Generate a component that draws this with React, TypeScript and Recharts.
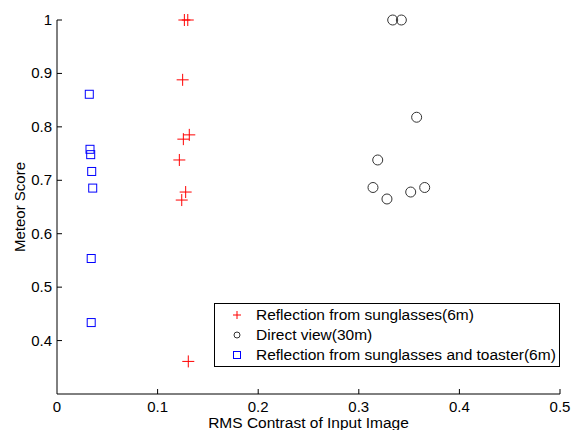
import React from 'react'
import { ScatterChart, Scatter, XAxis, YAxis } from 'recharts'

// Reflection from sunglasses (6m)
const sunglassesX = [0.1266, 0.13, 0.1249, 0.1256, 0.1315, 0.1216, 0.1279, 0.124, 0.1305]
const sunglassesY = [1.0, 1.0, 0.888, 0.777, 0.785, 0.738, 0.678, 0.663, 0.361]

// Direct view (30m)
const directX = [0.3337, 0.3423, 0.3575, 0.3188, 0.3141, 0.328, 0.3516, 0.3655]
const directY = [1.0, 1.0, 0.818, 0.738, 0.6865, 0.665, 0.678, 0.6865]

// Reflection from sunglasses and toaster (6m)
const toasterX = [0.0321, 0.0328, 0.0335, 0.0345, 0.0355, 0.034, 0.034]
const toasterY = [0.861, 0.758, 0.748, 0.7165, 0.6854, 0.5536, 0.4337]

const xTicks = [0, 0.1, 0.2, 0.3, 0.4, 0.5]
const yTicks = [0.3, 0.4, 0.5, 0.6, 0.7, 0.8, 0.9, 1.0]

const legendLabels = [
  'Reflection from sunglasses(6m)',
  'Direct view(30m)',
  'Reflection from sunglasses and toaster(6m)',
]

const zip = (xs: number[], ys: number[]) => xs.map((x, i) => ({ x, y: ys[i] }))

const FONT = '"Liberation Sans", Arial, Helvetica, sans-serif'

const Cross = (props: any) => {
  const { cx, cy } = props
  const s = 6
  return (
    <g stroke="#ff0000" strokeWidth={1}>
      <line x1={cx - s} y1={cy} x2={cx + s} y2={cy} />
      <line x1={cx} y1={cy - s} x2={cx} y2={cy + s} />
    </g>
  )
}

const Ring = (props: any) => {
  const { cx, cy } = props
  return <circle cx={cx} cy={cy} r={5} fill="none" stroke="#333" strokeWidth={1} />
}

const Box = (props: any) => {
  const { cx, cy } = props
  return (
    <rect x={cx - 4} y={cy - 4} width={8} height={8} fill="none" stroke="#0000ff" strokeWidth={1} />
  )
}

const XTick = (props: any) => {
  const { x, y, payload } = props
  const v = payload.value
  return (
    <g>
      {v > 0 && <line x1={x} y1={y} x2={x} y2={y - 5} stroke="#000" />}
      <text x={x} y={y + 18} textAnchor="middle" fontSize={15} fontFamily={FONT} fill="#000">
        {v === 0 ? '0' : String(v)}
      </text>
    </g>
  )
}

const YTick = (props: any) => {
  const { x, y, payload } = props
  const v = payload.value
  if (v < 0.35) return null
  return (
    <g>
      <line x1={x} y1={y} x2={x + 5} y2={y} stroke="#000" />
      <text x={x - 5} y={y + 5} textAnchor="end" fontSize={15} fontFamily={FONT} fill="#000">
        {v === 1 ? '1' : String(v)}
      </text>
    </g>
  )
}

const LegendBox = () => {
  const markers = [
    <g stroke="#ff0000">
      <line x1={2} y1={6} x2={10} y2={6} />
      <line x1={6} y1={2} x2={6} y2={10} />
    </g>,
    <circle cx={6} cy={6} r={3} fill="none" stroke="#333" />,
    <rect x={2.5} y={2.5} width={7} height={7} fill="none" stroke="#0000ff" />,
  ]
  return (
    <div
      style={{
        position: 'absolute',
        left: 214,
        top: 303,
        width: 344,
        height: 61,
        border: '1px solid #000',
        background: '#fff',
        fontFamily: FONT,
        fontSize: 15.5,
        paddingTop: 1,
      }}
    >
      {legendLabels.map((label, i) => (
        <div key={label} style={{ display: 'flex', alignItems: 'center', height: 20 }}>
          <svg width={12} height={12} style={{ marginLeft: 16, marginRight: 13 }}>
            {markers[i]}
          </svg>
          <span style={{ lineHeight: '20px', whiteSpace: 'nowrap' }}>{label}</span>
        </div>
      ))}
    </div>
  )
}

export default function App() {
  return (
    <div style={{ position: 'absolute', left: 0, top: 0, width: 572, height: 430, background: '#fff' }}>
      <ScatterChart width={572} height={430} margin={{ top: 20, right: 12, bottom: 0, left: 17 }}>
        <XAxis
          type="number"
          dataKey="x"
          domain={[0, 0.5]}
          ticks={xTicks}
          interval={0}
          height={36}
          tickSize={0}
          tickMargin={0}
          tickLine={false}
          tick={<XTick />}
          axisLine={{ stroke: '#000' }}
        />
        <YAxis
          type="number"
          dataKey="y"
          domain={[0.3, 1]}
          ticks={yTicks}
          interval={0}
          width={40}
          tickSize={0}
          tickMargin={0}
          tickLine={false}
          tick={<YTick />}
          axisLine={{ stroke: '#000' }}
        />
        <Scatter name={legendLabels[0]} data={zip(sunglassesX, sunglassesY)} shape={<Cross />} isAnimationActive={false} />
        <Scatter name={legendLabels[1]} data={zip(directX, directY)} shape={<Ring />} isAnimationActive={false} />
        <Scatter name={legendLabels[2]} data={zip(toasterX, toasterY)} shape={<Box />} isAnimationActive={false} />
      </ScatterChart>
      <LegendBox />
      <div
        style={{
          position: 'absolute',
          left: 57,
          width: 503,
          top: 413,
          textAlign: 'center',
          fontFamily: FONT,
          fontSize: 15.5,
          lineHeight: '20px',
          whiteSpace: 'nowrap',
        }}
      >
        RMS Contrast of Input Image
      </div>
      <div
        style={{
          position: 'absolute',
          left: 19,
          top: 207,
          transform: 'translate(-50%, -50%) rotate(-90deg)',
          fontFamily: FONT,
          fontSize: 15,
          whiteSpace: 'nowrap',
        }}
      >
        Meteor Score
      </div>
    </div>
  )
}
